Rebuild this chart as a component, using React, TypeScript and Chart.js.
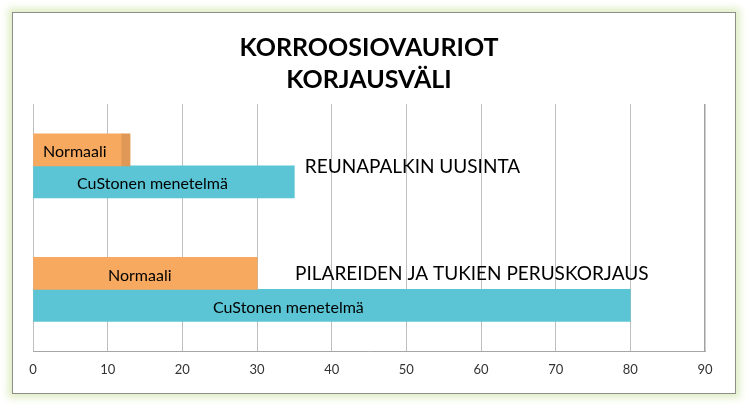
import React, { useEffect, useRef } from "react";
import { Chart, registerables } from "chart.js";

Chart.register(...registerables);

const categories = ["REUNAPALKIN UUSINTA", "PILAREIDEN JA TUKIEN PERUSKORJAUS"];
const normaali = [11.8, 30];
const normaaliEnd = [1.2, 0];
const custone = [35, 80];
const titleLines = ["KORROOSIOVAURIOT", "KORJAUSVÄLI"];
const xTicks = [0, 10, 20, 30, 40, 50, 60, 70, 80, 90];

const FONT = "Lato, 'Open Sans', sans-serif";

// annotation anchors (value units on the x scale)
const barTextAt: Record<number, number[]> = { 0: [5.6, 14.3], 2: [16.0, 34.2] };
const catLabelAt = [36.4, 35.1];
const catLabelDy = [1, -16];

const labelPlugin = {
  id: "barLabels",
  afterDatasetsDraw(chart: any) {
    const { ctx } = chart;
    const xs = chart.scales.x;
    const ys = chart.scales.y;
    ctx.save();
    ctx.textBaseline = "middle";
    ctx.textAlign = "center";
    ctx.fillStyle = "#000000";
    ctx.font = `16px ${FONT}`;
    [0, 2].forEach((di) => {
      const meta = chart.getDatasetMeta(di);
      const name = chart.data.datasets[di].label;
      meta.data.forEach((el: any, i: number) => {
        ctx.fillText(name, xs.getPixelForValue(barTextAt[di][i]), el.y + 2);
      });
    });
    ctx.textAlign = "left";
    ctx.font = `19px ${FONT}`;
    categories.forEach((c, i) => {
      ctx.fillText(c, xs.getPixelForValue(catLabelAt[i]), ys.getPixelForValue(i) + catLabelDy[i]);
    });
    ctx.restore();
  },
};

export default function App() {
  const ref = useRef<HTMLCanvasElement>(null);
  useEffect(() => {
    if (!ref.current) return;
    const chart = new Chart(ref.current, {
      type: "bar",
      data: {
        labels: categories,
        datasets: [
          { label: "Normaali", data: normaali, backgroundColor: "#F6A95F", stack: "a", barThickness: 32 },
          { label: "Normaali2", data: normaaliEnd, backgroundColor: "#E09856", stack: "a", barThickness: 32 },
          { label: "CuStonen menetelmä", data: custone, backgroundColor: "#5BC5D5", stack: "b", barThickness: 32 },
        ],
      },
      options: {
        indexAxis: "y",
        animation: false,
        responsive: false,
        maintainAspectRatio: false,
        layout: { padding: { left: 20, right: 30, top: 0, bottom: 5 } },
        plugins: {
          legend: { display: false },
          tooltip: { enabled: false },
          title: {
            display: true,
            text: titleLines,
            color: "#000000",
            font: { family: FONT, size: 25, weight: "bold", lineHeight: 32 / 25 },
            padding: { top: 19, bottom: 8 },
          },
        },
        scales: {
          x: {
            type: "linear",
            stacked: true,
            min: 0,
            max: 90,
            afterBuildTicks: (axis: any) => {
              axis.ticks = xTicks.map((v) => ({ value: v }));
            },
            grid: {
              color: (c: any) => (c.tick && c.tick.value === 90 ? "#A0A0A0" : "#BFBFBF"),
              lineWidth: (c: any) => (c.tick && c.tick.value === 90 ? 1.5 : 1),
              drawTicks: false,
            },
            border: { color: "#A6A6A6", width: 1 },
            ticks: { color: "#333333", font: { family: FONT, size: 13 }, padding: 10.6 },
          },
          y: {
            stacked: true,
            display: false,
          },
        },
      },
      plugins: [labelPlugin],
    });
    return () => chart.destroy();
  }, []);
  return (
    <div style={{ position: "absolute", left: 0, top: 0, width: 750, height: 408, background: "#ffffff" }}>
      <div
        style={{
          position: "absolute",
          left: 12,
          top: 12,
          width: 724,
          height: 382,
          boxSizing: "border-box",
          border: "1px solid #8B8F85",
          boxShadow: "0 0 7px 4px rgba(214,232,180,0.75)",
          background: "#ffffff",
        }}
      >
        <canvas ref={ref} width={722} height={380} style={{ display: "block", width: 722, height: 380 }} />
      </div>
    </div>
  );
}
